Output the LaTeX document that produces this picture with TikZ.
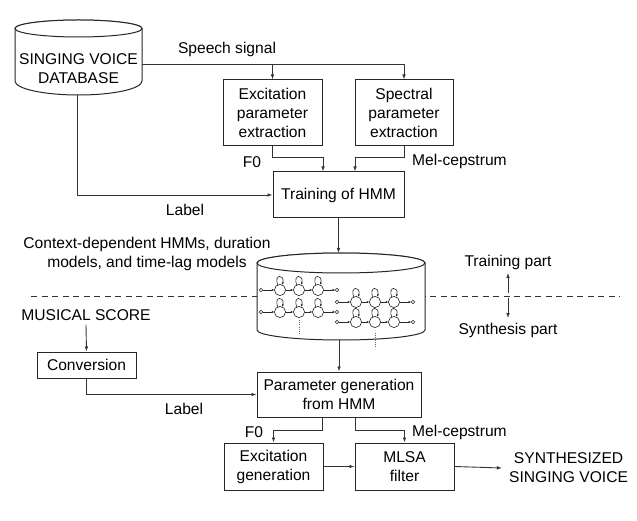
\documentclass[tikz,border=0pt]{standalone}
\usepackage{fontspec}
\setmainfont{Liberation Sans}
\usetikzlibrary{arrows.meta}
\begin{document}
\begin{tikzpicture}[x=1pt,y=-1pt,font=\fontsize{15.6}{19}\selectfont]
\tikzset{
  ln/.style={draw=black!80, line width=0.9pt},
  arr/.style={ln, -{Latex[length=5pt,width=3.6pt]}},
  box/.style={draw=black!85, line width=1pt, align=center, inner sep=0pt, fill=white},
  lbl/.style={inner sep=0pt, align=center},
  cyl/.style={draw=black!85, line width=1pt, fill=white},
  st/.style={line width=0.6pt, draw=black!85},
  sta/.style={st, -{Latex[length=2.6pt,width=2.2pt]}},
  dotl/.style={line width=0.8pt, draw=black!60, dash pattern=on 1pt off 1.2pt},
}
\useasboundingbox (0,0) rectangle (637,521);

% dashed separator
\draw[line width=0.9pt, draw=black!80, dash pattern=on 6pt off 4.5pt] (31,296) -- (620,296);

% singing voice database cylinder
\draw[cyl] (15,28.5) -- (15,81) arc[start angle=180,end angle=360,x radius=63.5pt,y radius=14pt]
  -- (142,28.5) arc[start angle=0,end angle=180,x radius=63.5pt,y radius=8.5pt] -- cycle;
\draw[cyl] (78.5,28.5) ellipse[x radius=63.5pt,y radius=8.5pt];
\node[lbl] (db) at (78.5,68.5) {SINGING VOICE\\DATABASE};
\coordinate (dbR) at (142,64);
\coordinate (dbB) at (77,95);

% boxes upper
\node[box, minimum width=99pt, minimum height=66pt] (exc) at (272.5,113) {Excitation\\parameter\\extraction};
\node[box, minimum width=98pt, minimum height=66pt] (spec) at (404,113) {Spectral\\parameter\\extraction};
\node[box, minimum width=131pt, minimum height=46pt] (train) at (338.5,195) {Training of HMM};

\node[lbl] (speech) at (227,49) {Speech signal};
\node[lbl] (f0a) at (252,162) {F0};
\node[lbl, anchor=west] (mela) at (412,161) {Mel-cepstrum};
\node[lbl] (labela) at (185,210) {Label};

\draw[arr] (dbR) -| (spec.north);
\draw[arr] (exc.north |- dbR) -- (exc.north);
\draw[arr] (exc.south) -- ++(0,11) -| ([xshift=-15.5pt]train.north);
\draw[arr] (spec.south) -- ++(0,11) -| ([xshift=16.5pt]train.north);
\draw[arr] (dbB) |- (train.west);

% HMM cylinder
\draw[cyl] (257,263) -- (257,330) arc[start angle=180,end angle=360,x radius=84pt,y radius=10pt]
  -- (425,263) arc[start angle=0,end angle=180,x radius=84pt,y radius=10pt] -- cycle;
\draw[cyl] (341,263) ellipse[x radius=84pt,y radius=10pt];
\coordinate (hmmT) at (341,253);
\coordinate (hmmB) at (341,340);
\draw[arr] (train.south) -- (train.south |- hmmT);

\foreach \xo/\yo in {261/290, 261/312, 337/302, 337/322}{
  \draw[st] (\xo,\yo) circle[radius=1.7pt];
  \draw[st] ({\xo+76},\yo) circle[radius=1.7pt];
  \foreach \k in {1,2,3}{
    \pgfmathsetmacro\cx{\xo+19*\k}
    \draw[st] (\cx,\yo) circle[radius=5.6pt];
    \draw[sta] ({\cx-2.3},{\yo-5.1}) .. controls ({\cx-6.5},{\yo-16}) and ({\cx+5},{\yo-16}) .. ({\cx+2.3},{\yo-5.1});
  }
  \draw[sta] ({\xo+1.7},\yo) -- ({\xo+13.4},\yo);
  \draw[sta] ({\xo+24.6},\yo) -- ({\xo+32.4},\yo);
  \draw[sta] ({\xo+43.6},\yo) -- ({\xo+51.4},\yo);
  \draw[sta] ({\xo+62.6},\yo) -- ({\xo+74.3},\yo);
}
\draw[dotl] (299,320) -- (299,335);
\draw[dotl] (375,333) -- (375,347);

\node[lbl] (ctx) at (147,254) {Context-dependent HMMs, duration\\models, and time-lag models};

% training / synthesis part
\node[lbl] (tp) at (508,262) {Training part};
\node[lbl] (sp) at (508,330) {Synthesis part};
\coordinate (mid) at (508,296);
\draw[arr] ([yshift=3pt]mid) -- ([yshift=-3.5pt]tp.south);
\draw[arr] ([yshift=-2pt]mid) -- ([yshift=4.5pt]sp.north);

% synthesis part
\node[lbl] (ms) at (86,315) {MUSICAL SCORE};
\node[box, minimum width=99pt, minimum height=26pt] (conv) at (86.5,365) {Conversion};
\draw[arr] ([yshift=-4pt]ms.south) -- (conv.north);

\node[box, minimum width=164pt, minimum height=45pt] (pg) at (339,394.5) {Parameter generation\\from HMM};
\draw[arr] (pg.north |- hmmB) -- (pg.north);
\draw[arr] (conv.south) |- (pg.west);
\node[lbl] (labelb) at (184,409) {Label};

\node[box, minimum width=99pt, minimum height=47pt] (exg) at (273.5,466.5) {Excitation\\generation};
\node[box, minimum width=99pt, minimum height=47pt] (mlsa) at (404.5,466.5) {MLSA\\filter};
\node[lbl] (f0b) at (254,432) {F0};
\node[lbl, anchor=west] (melb) at (412,432) {Mel-cepstrum};

\draw[arr] ([xshift=-17pt]pg.south) -- ++(0,13) -| (exg.north);
\draw[arr] ([xshift=16pt]pg.south) -- ++(0,13) -| (mlsa.north);
\draw[arr] (exg.east) -- (mlsa.west);

\node[lbl, anchor=west] (outp) at (509,468) {SYNTHESIZED\\SINGING VOICE};
\draw[arr] (mlsa.east) -- ([xshift=-7pt]outp.west);
\end{tikzpicture}
\end{document}
